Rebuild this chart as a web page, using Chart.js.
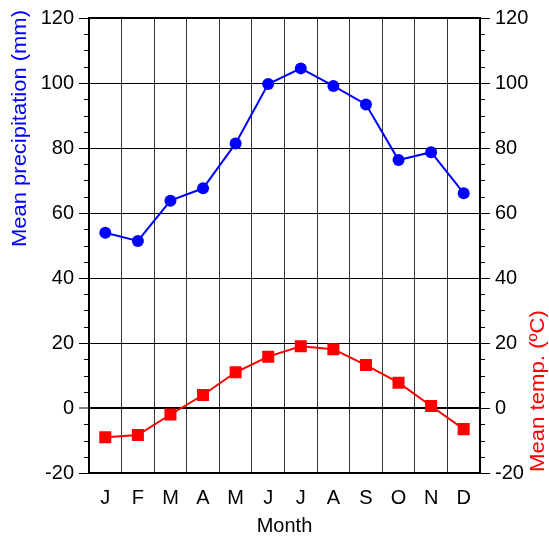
<!DOCTYPE html>
<html><head><meta charset="utf-8">
<script src="https://cdn.jsdelivr.net/npm/chart.js@4"></script>
<style>html,body{margin:0;padding:0;background:#fff}#wrap{width:549px;height:536px;position:relative}</style>
</head><body><div id="wrap"><canvas id="c" width="549" height="536"></canvas></div>
<script>
const months = ['J','F','M','A','M','J','J','A','S','O','N','D'];
const precipitation = [53.9, 51.4, 63.8, 67.6, 81.4, 99.7, 104.5, 99.1, 93.4, 76.3, 78.7, 66.1];
const temperature = [-9.0, -8.3, -2.0, 4.0, 11.0, 15.8, 19.0, 18.1, 13.2, 7.8, 0.6, -6.5];
const yTicks = [-20, 0, 20, 40, 60, 80, 100, 120];
const yMinorStep = 5;
const leftTitle = 'Mean precipitation (mm)';
const rightTitle = 'Mean temp. (\u00BAC)';
const xTitle = 'Month';

const FONT = "'Liberation Sans', Arial, Helvetica, sans-serif";

function vText(ctx, text, x, yStart, len, color, size){
  ctx.save();
  ctx.font = size + 'px ' + FONT;
  ctx.fillStyle = color;
  ctx.translate(x, yStart);
  ctx.rotate(-Math.PI/2);
  const w = ctx.measureText(text).width;
  ctx.scale(len / w, 1);
  ctx.textAlign = 'left';
  ctx.textBaseline = 'middle';
  ctx.fillText(text, 0, 0);
  ctx.restore();
}

const framePlugin = {
  id: 'frame',
  afterDraw(chart){
    const ctx = chart.ctx, a = chart.chartArea;
    ctx.save();
    ctx.strokeStyle = '#000'; ctx.lineWidth = 2;
    ctx.beginPath(); ctx.moveTo(a.left - 1, a.top); ctx.lineTo(a.right + 1, a.top); ctx.stroke();
    ctx.lineWidth = 1;
    const yl = chart.scales.y, yr = chart.scales.y1;
    for (let v = yTicks[0]; v <= yTicks[yTicks.length-1]; v += yMinorStep){
      if (yTicks.includes(v)) continue;
      const pl = Math.round(yl.getPixelForValue(v)) + 0.5;
      ctx.beginPath(); ctx.moveTo(a.left - 5, pl); ctx.lineTo(a.left, pl); ctx.stroke();
      const pr = Math.round(yr.getPixelForValue(v)) + 0.5;
      ctx.beginPath(); ctx.moveTo(a.right, pr); ctx.lineTo(a.right + 5, pr); ctx.stroke();
    }
    ctx.restore();
    vText(ctx, leftTitle, 20, 247, 237, '#0000ff', 20);
    vText(ctx, rightTitle, 538, 472, 162, '#ff0000', 20);
  }
};

new Chart(document.getElementById('c'), {
  type: 'line',
  data: {
    labels: months,
    datasets: [
      {
        label: 'Precipitation', data: precipitation, yAxisID: 'y',
        borderColor: '#0000ff', backgroundColor: '#0000ff', borderWidth: 2,
        pointStyle: 'circle', pointRadius: 6, pointBorderWidth: 0, pointHoverRadius: 6,
        tension: 0, fill: false
      },
      {
        label: 'Temperature', data: temperature, yAxisID: 'y1',
        borderColor: '#ff0000', backgroundColor: '#ff0000', borderWidth: 2,
        pointStyle: 'rect', pointRadius: 8.5, pointBorderWidth: 0, pointHoverRadius: 8.5,
        tension: 0, fill: false
      }
    ]
  },
  options: {
    responsive: false,
    animation: false,
    events: [],
    layout: { padding: { top: 18, left: 0, right: 0, bottom: 0 } },
    plugins: { legend: { display: false }, tooltip: { enabled: false } },
    scales: {
      x: {
        type: 'category',
        offset: true,
        grid: { offset: true, color: '#333', lineWidth: 1, drawTicks: false },
        border: { display: true, color: '#000', width: 2 },
        ticks: { color: '#000', font: { family: FONT, size: 20 }, padding: 13, maxRotation: 0, autoSkip: false },
        title: { display: true, text: xTitle, color: '#000', font: { family: FONT, size: 20, lineHeight: 1 }, padding: { top: 0, bottom: 0 } },
        afterFit(s){ s.height = 63; }
      },
      y: {
        position: 'left',
        min: yTicks[0], max: yTicks[yTicks.length-1],
        afterBuildTicks(s){ s.ticks = yTicks.map(v => ({ value: v })); },
        grid: {
          color: '#000',
          lineWidth: c => (c.tick && c.tick.value === 0) ? 2 : 1,
          tickLength: 10, tickColor: '#000', tickWidth: 1
        },
        border: { display: true, color: '#000', width: 2 },
        ticks: { color: '#000', font: { family: FONT, size: 20 }, padding: 5 },
        afterFit(s){ s.width = 89; }
      },
      y1: {
        position: 'right',
        min: yTicks[0], max: yTicks[yTicks.length-1],
        afterBuildTicks(s){ s.ticks = yTicks.map(v => ({ value: v })); },
        grid: { drawOnChartArea: false, tickLength: 10, tickColor: '#000', tickWidth: 1 },
        border: { display: true, color: '#000', width: 2 },
        ticks: { color: '#000', font: { family: FONT, size: 20 }, padding: 5 },
        afterFit(s){ s.width = 69; }
      }
    }
  },
  plugins: [framePlugin]
});
</script>
</body></html>
